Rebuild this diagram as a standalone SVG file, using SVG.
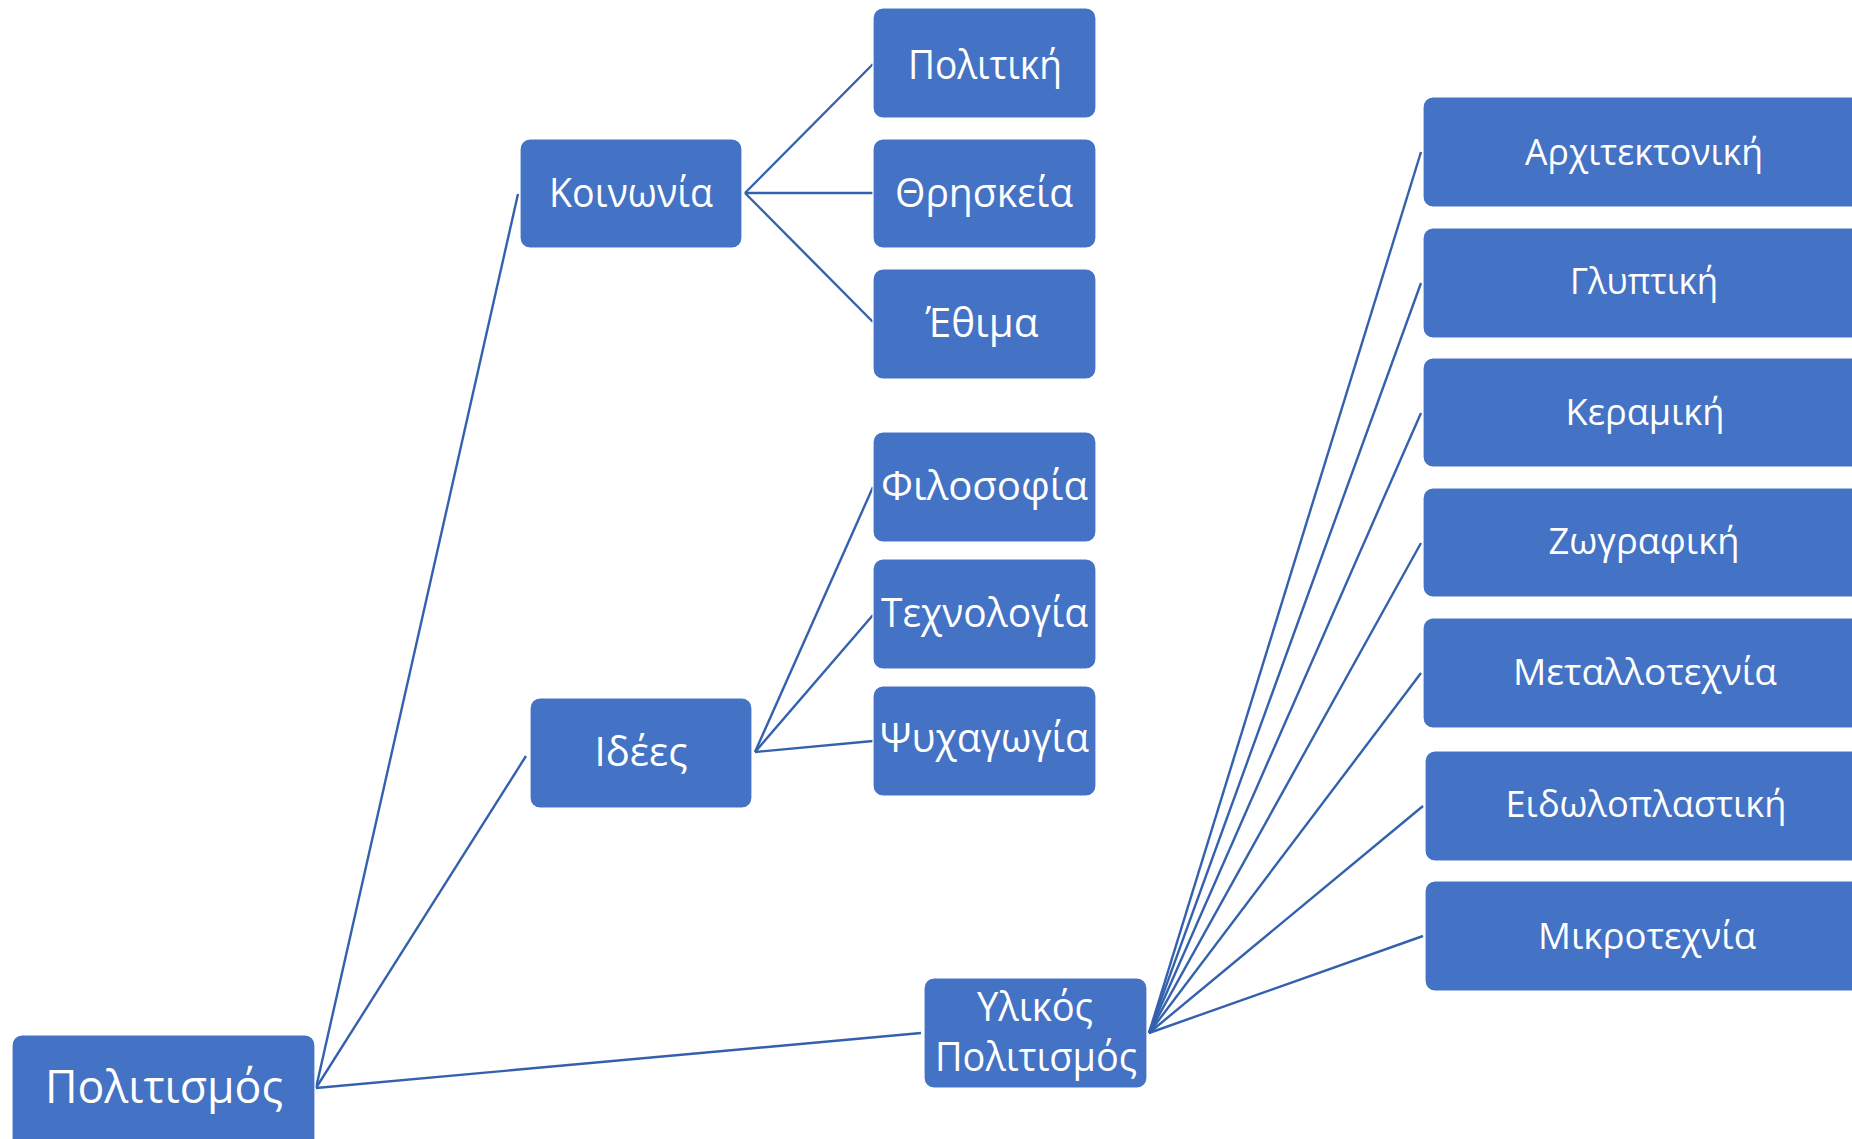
<svg xmlns="http://www.w3.org/2000/svg" width="1852" height="1139" viewBox="0 0 1852 1139">
<style>
.box{fill:#4472C4;stroke:#ffffff;stroke-width:1.2}
.t{fill:#ffffff;font-family:"Open Sans","Noto Sans","DejaVu Sans",sans-serif;text-anchor:middle;font-size:40px}
.big{font-size:46px}
.sm{font-size:37px}
.c{stroke:#3461AD;stroke-width:2.4;fill:none}
</style>
<rect width="1852" height="1139" fill="#ffffff"/>
<g id="connectors">
<line class="c" x1="316" y1="1088" x2="518" y2="194"/>
<line class="c" x1="316" y1="1088" x2="526" y2="756"/>
<line class="c" x1="316" y1="1088" x2="921" y2="1033"/>
<line class="c" x1="745" y1="193" x2="873" y2="64"/>
<line class="c" x1="745" y1="193" x2="873" y2="193"/>
<line class="c" x1="745" y1="193" x2="873" y2="322"/>
<line class="c" x1="755" y1="752" x2="873" y2="487"/>
<line class="c" x1="755" y1="752" x2="873" y2="615"/>
<line class="c" x1="755" y1="752" x2="873" y2="741"/>
<line class="c" x1="1149" y1="1033" x2="1421" y2="152"/>
<line class="c" x1="1149" y1="1033" x2="1421" y2="283"/>
<line class="c" x1="1149" y1="1033" x2="1421" y2="413"/>
<line class="c" x1="1149" y1="1033" x2="1421" y2="543"/>
<line class="c" x1="1149" y1="1033" x2="1421" y2="673"/>
<line class="c" x1="1149" y1="1033" x2="1423" y2="806"/>
<line class="c" x1="1149" y1="1033" x2="1423" y2="936"/>
</g>
<g id="politismos">
<rect class="box" x="12" y="1035" width="303" height="120" rx="10"/>
<text class="t big" x="164" y="1103" textLength="238" lengthAdjust="spacingAndGlyphs">Πολιτισμός</text>
</g>
<g id="koinonia">
<rect class="box" x="520" y="139" width="222" height="109" rx="10"/>
<text class="t" x="631" y="207" textLength="164" lengthAdjust="spacingAndGlyphs">Κοινωνία</text>
</g>
<g id="idees">
<rect class="box" x="530" y="698" width="222" height="110" rx="10"/>
<text class="t" x="641" y="766" textLength="93" lengthAdjust="spacingAndGlyphs">Ιδέες</text>
</g>
<g id="ylikos">
<rect class="box" x="924" y="978" width="223" height="110" rx="10"/>
<text class="t" x="1035" y="1021" textLength="116" lengthAdjust="spacingAndGlyphs">Υλικός</text>
<text class="t" x="1036" y="1071" textLength="202" lengthAdjust="spacingAndGlyphs">Πολιτισμός</text>
</g>
<g id="politiki">
<rect class="box" x="873" y="8" width="223" height="110" rx="10"/>
<text class="t" x="985" y="79" textLength="154" lengthAdjust="spacingAndGlyphs">Πολιτική</text>
</g>
<g id="thriskeia">
<rect class="box" x="873" y="139" width="223" height="109" rx="10"/>
<text class="t" x="984" y="207" textLength="178" lengthAdjust="spacingAndGlyphs">Θρησκεία</text>
</g>
<g id="ethima">
<rect class="box" x="873" y="269" width="223" height="110" rx="10"/>
<text class="t" x="982" y="337" textLength="113" lengthAdjust="spacingAndGlyphs">Έθιμα</text>
</g>
<g id="filosofia">
<rect class="box" x="873" y="432" width="223" height="110" rx="10"/>
<text class="t" x="984.5" y="500" textLength="207" lengthAdjust="spacingAndGlyphs">Φιλοσοφία</text>
</g>
<g id="technologia">
<rect class="box" x="873" y="559" width="223" height="110" rx="10"/>
<text class="t" x="984.5" y="627" textLength="207" lengthAdjust="spacingAndGlyphs">Τεχνολογία</text>
</g>
<g id="psychagogia">
<rect class="box" x="873" y="686" width="223" height="110" rx="10"/>
<text class="t" x="984.5" y="752" textLength="209" lengthAdjust="spacingAndGlyphs">Ψυχαγωγία</text>
</g>
<g id="architektoniki">
<rect class="box" x="1423" y="97" width="450" height="110" rx="10"/>
<text class="t sm" x="1644" y="165" textLength="238" lengthAdjust="spacingAndGlyphs">Αρχιτεκτονική</text>
</g>
<g id="glyptiki">
<rect class="box" x="1423" y="228" width="450" height="110" rx="10"/>
<text class="t sm" x="1644" y="294" textLength="148" lengthAdjust="spacingAndGlyphs">Γλυπτική</text>
</g>
<g id="keramiki">
<rect class="box" x="1423" y="358" width="450" height="109" rx="10"/>
<text class="t sm" x="1645" y="425" textLength="159" lengthAdjust="spacingAndGlyphs">Κεραμική</text>
</g>
<g id="zografiki">
<rect class="box" x="1423" y="488" width="450" height="109" rx="10"/>
<text class="t sm" x="1644" y="554" textLength="191" lengthAdjust="spacingAndGlyphs">Ζωγραφική</text>
</g>
<g id="metallotechnia">
<rect class="box" x="1423" y="618" width="450" height="110" rx="10"/>
<text class="t sm" x="1645" y="685" textLength="264" lengthAdjust="spacingAndGlyphs">Μεταλλοτεχνία</text>
</g>
<g id="eidoloplastiki">
<rect class="box" x="1425" y="751" width="450" height="110" rx="10"/>
<text class="t sm" x="1646" y="817" textLength="281" lengthAdjust="spacingAndGlyphs">Ειδωλοπλαστική</text>
</g>
<g id="mikrotechnia">
<rect class="box" x="1425" y="881" width="450" height="110" rx="10"/>
<text class="t sm" x="1647" y="949" textLength="218" lengthAdjust="spacingAndGlyphs">Μικροτεχνία</text>
</g>
</svg>
